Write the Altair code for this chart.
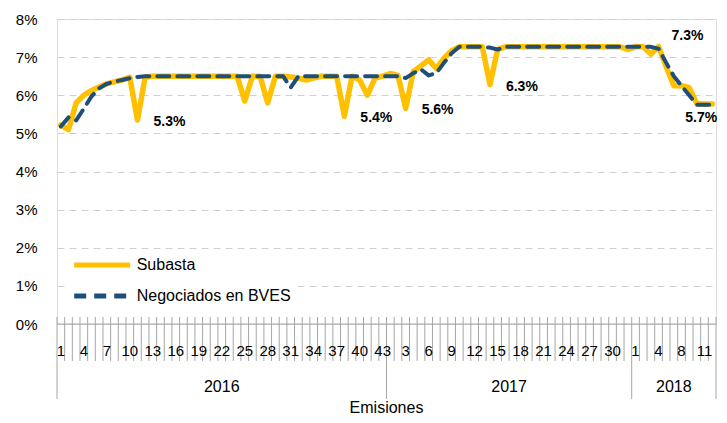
import altair as alt
import pandas as pd

# ---- categories (emission numbers within each year) ----
years = ["2016", "2017", "2018"]
emisiones_2016 = [1, 2, 3, 4, 5, 6, 7, 8, 9, 10, 11, 12, 13, 14, 15, 16, 17, 18, 19, 20,
                  21, 22, 23, 24, 25, 26, 27, 28, 29, 30, 31, 32, 33, 34, 35, 36, 37, 38, 39, 40,
                  41, 42, 43]
emisiones_2017 = [1, 2, 3, 4, 5, 6, 7, 8, 9, 10, 11, 12, 13, 14, 15, 16, 17, 18, 19, 20,
                  21, 22, 23, 24, 25, 26, 27, 28, 29, 30, 31, 32]
emisiones_2018 = [1, 2, 3, 4, 5, 6, 8, 9, 10, 11, 12]

# ---- series values (%) ----
subasta = [5.22, 5.10, 5.80, 6.00, 6.12, 6.22, 6.30, 6.35, 6.40, 6.47,
           5.35, 6.47, 6.50, 6.50, 6.50, 6.50, 6.50, 6.50, 6.50, 6.50,
           6.50, 6.50, 6.50, 6.50, 5.85, 6.50, 6.50, 5.80, 6.50, 6.50,
           6.48, 6.45, 6.40, 6.45, 6.50, 6.50, 6.50, 5.45, 6.50, 6.40,
           6.00, 6.45, 6.50,
           6.57, 6.52, 5.66, 6.62, 6.77, 6.93, 6.70, 6.97, 7.17, 7.27,
           7.27, 7.27, 7.27, 6.28, 7.20, 7.27, 7.27, 7.27, 7.27, 7.27,
           7.27, 7.27, 7.27, 7.27, 7.27, 7.27, 7.27, 7.27, 7.27, 7.27,
           7.27, 7.20,
           7.27, 7.27, 7.08, 7.28, 6.75, 6.25, 6.25, 6.20, 5.78, 5.77, 5.77]
negociados_bves = [5.18, 5.42, 5.34, 5.65, 5.97, 6.18, 6.30, 6.36, 6.40, 6.45,
                   6.48, 6.50, 6.50, 6.50, 6.50, 6.50, 6.50, 6.50, 6.50, 6.50,
                   6.50, 6.50, 6.50, 6.50, 6.50, 6.50, 6.50, 6.50, 6.50, 6.50,
                   6.20, 6.50, 6.50, 6.50, 6.50, 6.50, 6.50, 6.50, 6.50, 6.50,
                   6.50, 6.50, 6.50,
                   6.50, 6.50, 6.45, 6.58, 6.68, 6.52, 6.58, 6.85, 7.10, 7.27,
                   7.27, 7.27, 7.27, 7.25, 7.20, 7.27, 7.27, 7.27, 7.27, 7.27,
                   7.27, 7.27, 7.27, 7.27, 7.27, 7.27, 7.27, 7.27, 7.27, 7.27,
                   7.27, 7.27,
                   7.27, 7.27, 7.27, 7.22, 6.85, 6.50, 6.25, 6.00, 5.75, 5.75, 5.75]
series_names = ["Subasta", "Negociados en BVES"]

# ---- data labels ----
label_index = [10, 37, 45, 56, 78, 85]
label_text = ["5.3%", "5.4%", "5.6%", "6.3%", "7.3%", "5.7%"]

y_ticks = [0, 0.01, 0.02, 0.03, 0.04, 0.05, 0.06, 0.07, 0.08]
x_title = "Emisiones"

# ---- build tables ----
groups = [emisiones_2016, emisiones_2017, emisiones_2018]
cat_rows = []
year_rows = []
bounds = [0]
idx = 0
for yr, em in zip(years, groups):
    start = idx
    for e in em:
        cat_rows.append({"i": idx, "pos": idx + 0.5, "year": yr, "lab": str(e)})
        idx += 1
    year_rows.append({"year": yr, "mid": (start + idx) / 2})
    bounds.append(idx)
n = idx
cats = pd.DataFrame(cat_rows)
cats["show"] = cats["i"] % 3 == 0

rows = []
for name, vals in zip(series_names, [subasta, negociados_bves]):
    for i, v in enumerate(vals):
        rows.append({"pos": i + 0.5, "value": v / 100, "serie": name})
df = pd.DataFrame(rows)

lab_df = pd.DataFrame({"i": label_index, "text": label_text})
lab_df["pos"] = lab_df["i"] + 0.5
lab_df["value"] = [subasta[i] / 100 for i in label_index]

W, H = 659, 305
FONT = "Liberation Sans"
xscale = alt.Scale(domain=[0, n], nice=False, zero=False)
yscale = alt.Scale(domain=[0, 0.08], nice=False)

legend = alt.Legend(title=None, orient="none", legendX=9.7, legendY=231.5,
                    symbolType="M-1,0H7", symbolSize=196, symbolStrokeWidth=5,
                    labelFontSize=16, labelFont=FONT, labelColor="black",
                    labelOffset=46, rowPadding=10, padding=5, fillColor="white")
color = alt.Color("serie:N", scale=alt.Scale(domain=series_names, range=["#FFC000", "#1F4E79"]),
                  legend=legend)
dash = alt.StrokeDash("serie:N", scale=alt.Scale(domain=series_names, range=[[1, 0], [12, 8]]),
                      legend=legend)

y_axis = alt.Axis(values=y_ticks, format=".0%", grid=True, gridColor="#D0D0D0",
                  gridDash=[7, 5], gridWidth=1, domain=False, ticks=False, tickSize=0,
                  labelPadding=20, labelFontSize=15, labelFont=FONT, labelColor="black",
                  labelOverlap=False)


def y_enc():
    return alt.Y("value:Q", scale=yscale, title=None, axis=y_axis)


base = alt.Chart(df)
line_sub = base.transform_filter(alt.datum.serie == series_names[0]).mark_line(
    strokeWidth=5.5, strokeJoin="round", strokeCap="round").encode(
    x=alt.X("pos:Q", scale=xscale, axis=None), y=y_enc(),
    color=color, strokeDash=dash)
line_bves = base.transform_filter(alt.datum.serie == series_names[1]).mark_line(
    strokeWidth=4, strokeJoin="round", strokeCap="round").encode(
    x=alt.X("pos:Q", scale=xscale, axis=None), y=y_enc(),
    color=color, strokeDash=dash)

baseline = alt.Chart(pd.DataFrame({"b": [0]})).mark_rule(color="#A6A6A6", strokeWidth=1).encode(
    x=alt.value(0), x2=alt.value(W), y=alt.value(H))

ticks = alt.Chart(pd.DataFrame({"b": list(range(n + 1))})).mark_rule(
    color="#A6A6A6", strokeWidth=1).encode(
    x=alt.X("b:Q", scale=xscale, axis=None), y=alt.value(H - 7), y2=alt.value(H + 37))

year_sep = alt.Chart(pd.DataFrame({"b": bounds})).mark_rule(
    color="#A6A6A6", strokeWidth=1).encode(
    x=alt.X("b:Q", scale=xscale, axis=None), y=alt.value(H + 37), y2=alt.value(H + 75))

cat_labels = alt.Chart(cats).transform_filter(alt.datum.show).mark_text(
    font=FONT, fontSize=15, color="black", baseline="middle", align="center").encode(
    x=alt.X("pos:Q", scale=xscale, axis=None), y=alt.value(H + 27), text="lab:N")

year_labels = alt.Chart(pd.DataFrame(year_rows)).mark_text(
    font=FONT, fontSize=16, color="black", baseline="middle", align="center").encode(
    x=alt.X("mid:Q", scale=xscale, axis=None), y=alt.value(H + 63), text="year:N")

title = alt.Chart(pd.DataFrame({"t": [x_title]})).mark_text(
    font=FONT, fontSize=16, color="black", baseline="middle", align="center").encode(
    x=alt.value(W / 2), y=alt.value(H + 84), text="t:N")

lab_common = dict(font=FONT, fontSize=14, fontWeight="bold", color="black", baseline="middle")
lab_enc = dict(x=alt.X("pos:Q", scale=xscale, axis=None), y=y_enc(), text="text:N")
labels_a = alt.Chart(lab_df).transform_filter(
    alt.FieldOneOfPredicate(field="text", oneOf=label_text[:4])).mark_text(
    align="left", dx=16, dy=2, **lab_common).encode(**lab_enc)
labels_b = alt.Chart(lab_df).transform_filter(alt.datum.text == label_text[4]).mark_text(
    align="left", dx=13, dy=-10, **lab_common).encode(**lab_enc)
labels_c = alt.Chart(lab_df).transform_filter(alt.datum.text == label_text[5]).mark_text(
    align="center", dx=-11, dy=14, **lab_common).encode(**lab_enc)

chart = alt.layer(
    line_sub, baseline, ticks, year_sep, cat_labels, year_labels, title,
    line_bves, labels_a, labels_b, labels_c
).properties(
    width=W, height=H,
    padding={"left": 49, "top": 11, "right": 3, "bottom": 91},
    autosize=alt.AutoSizeParams(type="none"),
).configure_view(stroke=None).configure(background="white")

chart.save("out.html", embed_options={"renderer": "svg", "actions": False})
